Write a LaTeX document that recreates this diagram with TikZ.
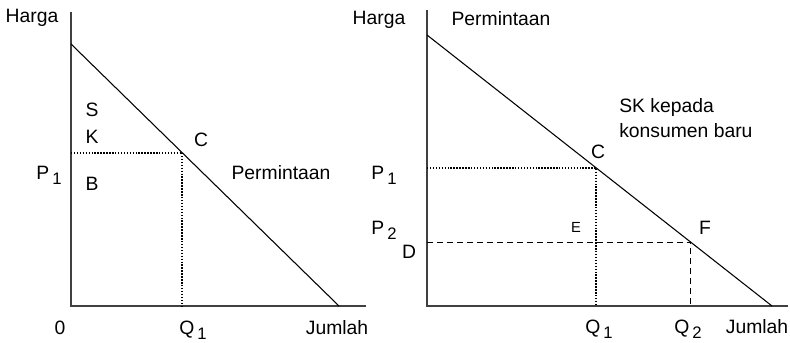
\documentclass[tikz,border=0pt]{standalone}
\usepackage{fontspec}
\setmainfont{Liberation Sans}
\usetikzlibrary{calc}
\newcommand{\lowidx}[1]{\hspace{0.15em}\raisebox{-3.7pt}{\fontsize{12.5}{14}\selectfont #1}}

\begin{document}
\begin{tikzpicture}[x=0.75pt, y=0.75pt,
  every node/.style={font=\fontsize{14.5}{17}\selectfont, inner sep=0pt, anchor=base},
  axis/.style={draw=black!75, line width=1pt},
  demand/.style={draw=black, line width=0.8pt},
  guide/.style={dash pattern=on 1.1pt off 1.1pt, line width=1.3pt},
  cutline/.style={dash pattern=on 4.5pt off 3pt, line width=0.8pt}]
\useasboundingbox (0,0) rectangle (790,343);
% left diagram
\coordinate (o1) at (71,37);
\coordinate (ytop1) at (71,331);
\coordinate (xend1) at (366,37);
\coordinate (dtop1) at (71,299);
\coordinate (dbot1) at (339,37);
\coordinate (c1) at ($(dtop1)!0.415!(dbot1)$);
\draw[axis] (ytop1) -- (o1) -- (xend1);
\draw[demand] (dtop1) -- (dbot1);
\draw[guide] (c1 -| o1) -- (c1) -- (c1 |- o1);
\node (harga1) at (32,320) {Harga};
\node (s1) at (92,226) {S};
\node (k1) at (92,199) {K};
\node (lblc1) at (201,196) {C};
\node (p1a) at (49,163) {P\lowidx{1}};
\node (b1) at (92,152) {B};
\node (perm1) at (281,163) {Permintaan};
\node (zero) at (60,8) {0};
\node (q1a) at (193,8) {Q\lowidx{1}};
\node (jml1) at (337,8) {Jumlah};
% right diagram
\coordinate (o2) at (427,37);
\coordinate (ytop2) at (427,333);
\coordinate (xend2) at (788,37);
\coordinate (dtop2) at (427,308);
\coordinate (dbot2) at (772,37);
\coordinate (c2) at ($(dtop2)!0.49!(dbot2)$);
\coordinate (f2) at ($(dtop2)!0.765!(dbot2)$);
\draw[axis] (ytop2) -- (o2) -- (xend2);
\draw[demand] (dtop2) -- (dbot2);
\draw[guide] (c2 -| o2) -- (c2) -- (c2 |- o2);
\draw[cutline] (f2 -| o2) -- (f2) -- (f2 |- o2);
\node (harga2) at (379,318) {Harga};
\node (perm2) at (501,317) {Permintaan};
\node[anchor=base west] (sk) at (619,230) {SK kepada};
\node[anchor=base west] (kons) at (619,205) {konsumen baru};
\node (lblc2) at (598,184) {C};
\node (p1b) at (384,163) {P\lowidx{1}};
\node (p2b) at (384,108) {P\lowidx{2}};
\node[font=\fontsize{11}{13}\selectfont] (e2) at (576,110) {E};
\node (lblf) at (705,108) {F};
\node (d2) at (409,84) {D};
\node (q1b) at (599,9) {Q\lowidx{1}};
\node (q2b) at (688,9) {Q\lowidx{2}};
\node (jml2) at (757,9) {Jumlah};
\end{tikzpicture}
\end{document}
